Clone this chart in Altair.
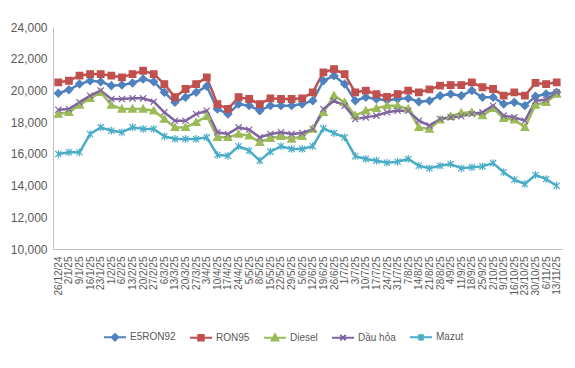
import altair as alt
import pandas as pd

dates = ["26/12/24", "2/1/25", "9/1/25", "16/1/25", "23/1/25", "1/2/25", "6/2/25", "13/2/25",
         "20/2/25", "27/2/25", "6/3/25", "13/3/25", "20/3/25", "27/3/25", "3/4/25", "10/4/25",
         "17/4/25", "24/4/25", "5/5/25", "8/5/25", "15/5/25", "22/5/25", "29/5/25", "5/6/25",
         "12/6/25", "19/6/25", "26/6/25", "1/7/25", "3/7/25", "10/7/25", "17/7/25", "24/7/25",
         "31/7/25", "7/8/25", "14/8/25", "21/8/25", "28/8/25", "4/9/25", "11/9/25", "18/9/25",
         "25/9/25", "2/10/25", "9/10/25", "16/10/25", "23/10/25", "30/10/25", "6/11/25", "13/11/25"]

e5ron92 = [19820, 20040, 20400, 20610, 20550, 20300, 20340, 20470, 20720, 20550, 19880, 19250,
           19570, 19880, 20260, 18830, 18510, 19140, 19040, 18720, 19040, 19040, 19040, 19140,
           19350, 20610, 20930, 20400, 19350, 19570, 19460, 19380, 19460, 19500, 19290, 19350,
           19670, 19770, 19670, 19990, 19570, 19570, 19140, 19250, 19040, 19630, 19770, 19880]
ron95 = [20510, 20610, 20930, 21030, 21030, 20930, 20830, 21030, 21240, 21030, 20400, 19570,
         20090, 20400, 20830, 19140, 18830, 19570, 19460, 19140, 19500, 19460, 19460, 19500,
         19880, 21140, 21350, 21030, 19880, 19990, 19770, 19600, 19770, 19990, 19880, 20060,
         20300, 20340, 20340, 20510, 20200, 20090, 19670, 19880, 19670, 20470, 20400, 20510]
diesel = [18510, 18620, 19080, 19500, 19880, 19080, 18830, 18830, 18830, 18720, 18200, 17670,
          17670, 17990, 18370, 17040, 17040, 17250, 17140, 16730, 16980, 17110, 16940, 17110,
          17570, 18620, 19670, 19250, 18410, 18720, 18870, 19040, 19040, 18830, 17670, 17570,
          18150, 18370, 18580, 18620, 18410, 18870, 18240, 18150, 17670, 19080, 19250, 19770]
dauhoa = [18780, 18830, 19250, 19670, 19990, 19460, 19460, 19500, 19500, 19290, 18620, 18090,
          18090, 18510, 18720, 17360, 17250, 17670, 17520, 17040, 17250, 17360, 17250, 17310,
          17570, 18830, 19350, 19040, 18200, 18300, 18410, 18620, 18720, 18720, 18090, 17780,
          18200, 18300, 18370, 18510, 18620, 19040, 18410, 18300, 18090, 19350, 19410, 19880]
mazut = [15990, 16100, 16100, 17250, 17670, 17460, 17360, 17670, 17570, 17570, 17110, 16940,
         16940, 16940, 17040, 15930, 15880, 16480, 16200, 15570, 16140, 16480, 16310, 16310,
         16480, 17610, 17310, 17040, 15850, 15680, 15570, 15440, 15500, 15680, 15250, 15090,
         15250, 15360, 15090, 15150, 15210, 15420, 14840, 14370, 14100, 14670, 14410, 13990]

names = ["E5RON92", "RON95", "Diesel", "Dầu hỏa", "Mazut"]
colors = ["#4F81BD", "#C0504D", "#9BBB59", "#8064A2", "#4BACC6"]
y_ticks = [10000, 12000, 14000, 16000, 18000, 20000, 22000, 24000]

marker_paths = [
    "M0,-1L1,0L0,1L-1,0Z",
    "M-0.85,-0.85L0.85,-0.85L0.85,0.85L-0.85,0.85Z",
    "M0,-1L1,0.8L-1,0.8Z",
    "M-0.8,-0.8L0.8,0.8M-0.8,0.8L0.8,-0.8",
    "M-0.8,-0.8L0.8,0.8M-0.8,0.8L0.8,-0.8M0,-1L0,1",
]
legend_paths = [
    "M-1,0L1,0M0,-0.3L0.3,0L0,0.3L-0.3,0Z",
    "M-1,0L1,0M-0.25,-0.25L0.25,-0.25L0.25,0.25L-0.25,0.25Z",
    "M-1,0L1,0M0,-0.3L0.3,0.25L-0.3,0.25Z",
    "M-1,0L1,0M-0.25,-0.25L0.25,0.25M-0.25,0.25L0.25,-0.25",
    "M-1,0L1,0M-0.25,-0.25L0.25,0.25M-0.25,0.25L0.25,-0.25M0,-0.3L0,0.3",
]

series_values = [e5ron92, ron95, diesel, dauhoa, mazut]
rows = []
for name, vals in zip(names, series_values):
    for d, v in zip(dates, vals):
        rows.append({"date": d, "series": name, "value": v})
df = pd.DataFrame(rows)

FONT = "Liberation Sans"
TXT = "#595959"

x_enc = alt.X("date:N", sort=dates,
              scale=alt.Scale(type="point", padding=0.5),
              axis=alt.Axis(title=None, labelAngle=270, labelFontSize=10, labelColor=TXT,
                            labelFont=FONT, domainColor="#bfbfbf", ticks=False, grid=False,
                            labelOverlap=False, labelPadding=7))
y_enc = alt.Y("value:Q", scale=alt.Scale(domain=[10000, 24000], nice=False, zero=False),
              axis=alt.Axis(title=None, values=y_ticks, format=",.0f", labelFontSize=12,
                            labelColor=TXT, labelFont=FONT, grid=False, ticks=False,
                            domainColor="#bfbfbf", labelPadding=6))

cscale = alt.Scale(domain=names, range=colors)
series_sort = names

lines = alt.Chart(df).mark_line(strokeWidth=2.5).encode(
    x=x_enc, y=y_enc,
    color=alt.Color("series:N", scale=cscale, legend=None, sort=series_sort),
)

points = alt.Chart(df).mark_point(filled=True, size=60, strokeWidth=1.2, opacity=1).encode(
    x=x_enc, y=y_enc,
    fill=alt.Fill("series:N", scale=cscale, legend=None, sort=series_sort),
    stroke=alt.Stroke("series:N", scale=cscale, legend=None, sort=series_sort),
    shape=alt.Shape("series:N", scale=alt.Scale(domain=names, range=marker_paths),
                    legend=None, sort=series_sort),
)

leg = dict(title=None, orient="none", direction="horizontal", legendX=50, legendY=298,
           symbolSize=484, symbolStrokeWidth=2, labelFontSize=10, labelColor=TXT,
           labelFont=FONT, labelOffset=3, columnPadding=10, padding=0)

legend_layer = alt.Chart(df).transform_filter("false").mark_point(
    filled=True, strokeWidth=2, opacity=1).encode(
    fill=alt.Fill("series:N", scale=cscale, legend=alt.Legend(**leg), sort=series_sort),
    stroke=alt.Stroke("series:N", scale=cscale, legend=alt.Legend(**leg), sort=series_sort),
    shape=alt.Shape("series:N", scale=alt.Scale(domain=names, range=legend_paths),
                    legend=alt.Legend(**leg), sort=series_sort),
)

chart = alt.layer(lines, points, legend_layer).resolve_scale(
    shape="independent", fill="independent", stroke="independent"
).properties(
    width=509, height=222,
    autosize=alt.AutoSizeParams(type="none"),
    padding={"left": 45, "top": 19, "right": 5, "bottom": 111},
    background="white",
).configure_view(stroke=None)

chart.save("out.html", embed_options={"renderer": "svg", "actions": False})
